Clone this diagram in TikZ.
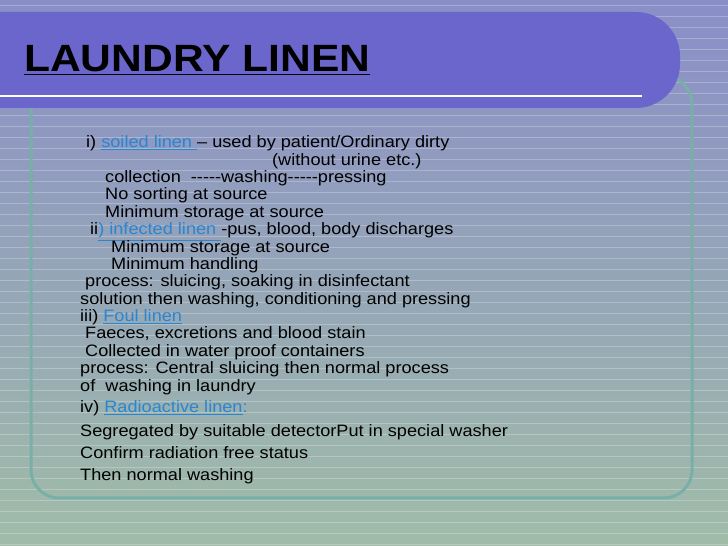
\documentclass[tikz,border=0pt]{standalone}
\usepackage{fontspec}
\setmainfont{Liberation Sans}[FakeStretch=1.1]
\newfontfamily\titlefont{Liberation Sans}[FakeStretch=1.12]
\definecolor{bgtop}{HTML}{8A8EC8}
\definecolor{bgbot}{HTML}{A0BCA8}
\definecolor{band}{HTML}{6A66CC}
\definecolor{frame}{HTML}{78B0A8}
\definecolor{lnk}{HTML}{2A86D0}
\newcommand{\lk}[1]{\textcolor{lnk}{\underline{#1}}}
\newcommand{\dsh}{{-}{-}{-}{-}{-}}
\begin{document}
\begin{tikzpicture}[x=1pt,y=1pt,
  txt/.style={anchor=base west,inner sep=0pt,font=\fontsize{16.5}{18}\selectfont},
  txtb/.style={anchor=base west,inner sep=0pt,font=\fontsize{16.5}{19}\selectfont}]
\useasboundingbox (0,0) rectangle (728,546);
\shade[top color=bgtop,bottom color=bgbot] (0,0) rectangle (728,546);
\foreach \i in {0,...,50} {\draw[white,opacity=0.25,line width=0.8pt] (0,{546-5-\i*11}) -- (728,{546-5-\i*11});}
\draw[frame,line width=3pt,rounded corners=28pt] (31,48) rectangle (692,470);
\fill[band,rounded corners=44pt] (-50,438) rectangle (680,534);
\fill[band] (-5,438) rectangle (100,534);
\draw[white,line width=2.5pt] (0,450) -- (642,450);
\node[anchor=base west,inner sep=0pt,font=\fontsize{38}{42}\titlefont\bfseries] (title) at (24,474) {\underline{LAUNDRY LINEN}};
\node[txt] (l1) at (86,398) {i) \lk{soiled linen }– used by patient/Ordinary dirty};
\node[txt] (l2) at (272,380) {(without urine etc.)};
\node[txt] (l3) at (105,363) {collection \ \dsh washing\dsh pressing};
\node[txt] (l4) at (105,346) {No sorting at source};
\node[txt] (l5) at (105,328) {Minimum storage at source};
\node[txt] (l6) at (90,311) {ii\lk{) infected linen }-pus, blood, body discharges};
\node[txt] (l7) at (111,293) {Minimum storage at source};
\node[txt] (l8) at (111,276) {Minimum handling};
\node[txt] (l9) at (85,259) {process: sluicing, soaking in disinfectant};
\node[txt] (l10) at (80,241) {solution then washing, conditioning and pressing};
\node[txt] (l11) at (80,224) {iii) \lk{Foul linen}};
\node[txt] (l12) at (85,207) {Faeces, excretions and blood stain};
\node[txt] (l13) at (85,189) {Collected in water proof containers};
\node[txt] (l14) at (80,172) {process: Central sluicing then normal process};
\node[txt] (l15) at (80,154) {of \ washing in laundry};
\node[txtb] (l16) at (80,133) {iv) \lk{Radioactive linen}\textcolor{lnk}{:}};
\node[txtb] (l17) at (80,109) {Segregated by suitable detectorPut in special washer};
\node[txtb] (l18) at (80,87) {Confirm radiation free status};
\node[txtb] (l19) at (80,65) {Then normal washing};
\end{tikzpicture}
\end{document}
